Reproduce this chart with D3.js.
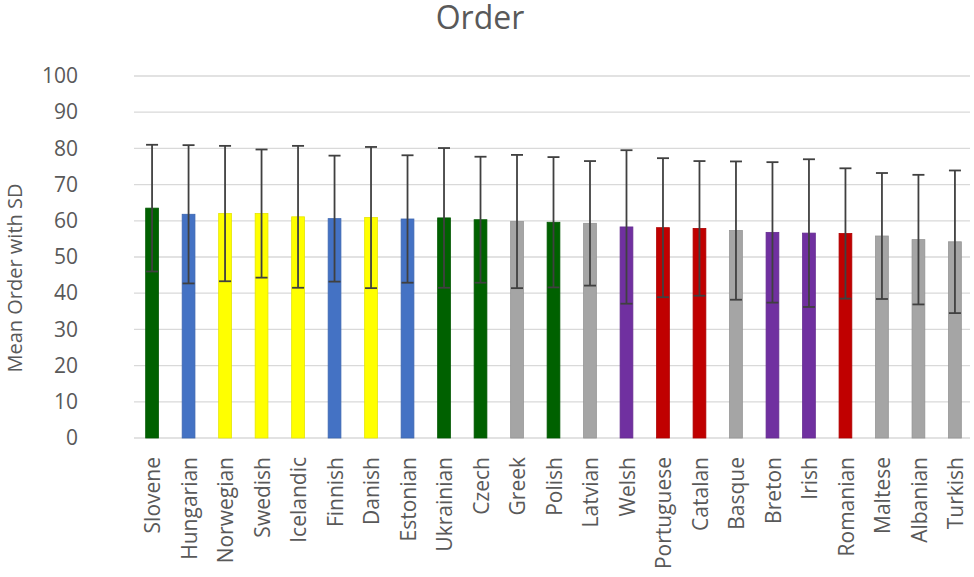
<!DOCTYPE html>
<html>
<head>
<meta charset="utf-8">
<script src="https://cdn.jsdelivr.net/npm/d3@7"></script>
<style>
  body { margin: 0; background: #ffffff; }
  svg { display: block; font-family: "Open Sans", sans-serif; }
</style>
</head>
<body>
<svg id="chart" width="974" height="577"></svg>
<script>
// languages, in the order they appear
const languages = ["Slovene", "Hungarian", "Norwegian", "Swedish", "Icelandic", "Finnish",
  "Danish", "Estonian", "Ukrainian", "Czech", "Greek", "Polish", "Latvian", "Welsh",
  "Portuguese", "Catalan", "Basque", "Breton", "Irish", "Romanian", "Maltese", "Albanian", "Turkish"];

const meanOrder = [63.5, 61.8, 62.0, 62.0, 61.1, 60.6, 60.9, 60.5, 60.8, 60.3, 59.8, 59.6,
  59.3, 58.3, 58.1, 57.9, 57.3, 56.8, 56.6, 56.5, 55.8, 54.8, 54.2];

const sdOrder = [17.5, 19.1, 18.7, 17.7, 19.6, 17.4, 19.5, 17.6, 19.3, 17.4, 18.4, 18.0,
  17.2, 21.2, 19.2, 18.6, 19.1, 19.4, 20.4, 18.0, 17.4, 17.9, 19.7];

// family group -> colour
const family = ["slavic", "uralic", "germanic", "germanic", "germanic", "uralic", "germanic",
  "uralic", "slavic", "slavic", "other", "slavic", "other", "celtic", "romance", "romance",
  "other", "celtic", "celtic", "romance", "other", "other", "other"];

const familyColors = {
  slavic: "#006100",
  uralic: "#4472C4",
  germanic: "#FFFF00",
  other: "#A5A5A5",
  celtic: "#7030A0",
  romance: "#C00000"
};

const yTicks = [0, 10, 20, 30, 40, 50, 60, 70, 80, 90, 100];

const svg = d3.select("#chart");
const margin = { left: 134, right: 1, top: 76, bottom: 139 };
const width = 974 - margin.left - margin.right;
const height = 577 - margin.top - margin.bottom;

const g = svg.append("g")
  .attr("transform", `translate(${margin.left},${margin.top})`);

const x = d3.scaleBand()
  .domain(languages)
  .range([0, width])
  .paddingInner(0.65)
  .paddingOuter(0.32);

const y = d3.scaleLinear()
  .domain([0, 100])
  .range([height, 0]);

// gridlines
g.selectAll(".grid")
  .data(yTicks)
  .enter().append("line")
  .attr("class", "grid")
  .attr("x1", 0)
  .attr("x2", width - 3)
  .attr("y1", d => y(d))
  .attr("y2", d => y(d))
  .attr("stroke", "#d9d9d9")
  .attr("stroke-width", 1.3)

// y axis labels
const yAxis = g.append("g")
  .call(d3.axisLeft(y).tickValues(yTicks).tickSize(0).tickPadding(56))
yAxis.select(".domain").remove();
yAxis.selectAll("text")
  .attr("font-size", 21)
  .attr("font-family", "'Open Sans', sans-serif")
  .attr("fill", "#595959");

// bars
g.selectAll(".bar")
  .data(languages)
  .enter().append("rect")
  .attr("class", "bar")
  .attr("x", d => x(d))
  .attr("y", (d, i) => y(meanOrder[i]))
  .attr("width", x.bandwidth())
  .attr("height", (d, i) => height - y(meanOrder[i]))
  .attr("fill", (d, i) => familyColors[family[i]])
  .attr("stroke", (d, i) => d3.color(familyColors[family[i]]).darker(0.3))
  .attr("stroke-width", 0.8)

// error bars
const capHalf = 6;
const err = g.selectAll(".err")
  .data(languages)
  .enter().append("g")
  .attr("class", "err")
  .attr("stroke", "#404040")
  .attr("stroke-width", 1.8);

err.append("line")
  .attr("x1", d => x(d) + x.bandwidth() / 2)
  .attr("x2", d => x(d) + x.bandwidth() / 2)
  .attr("y1", (d, i) => y(meanOrder[i] - sdOrder[i]))
  .attr("y2", (d, i) => y(meanOrder[i] + sdOrder[i]));

err.append("line")
  .attr("x1", d => x(d) + x.bandwidth() / 2 - capHalf)
  .attr("x2", d => x(d) + x.bandwidth() / 2 + capHalf)
  .attr("y1", (d, i) => y(meanOrder[i] + sdOrder[i]))
  .attr("y2", (d, i) => y(meanOrder[i] + sdOrder[i]));

err.append("line")
  .attr("x1", d => x(d) + x.bandwidth() / 2 - capHalf)
  .attr("x2", d => x(d) + x.bandwidth() / 2 + capHalf)
  .attr("y1", (d, i) => y(meanOrder[i] - sdOrder[i]))
  .attr("y2", (d, i) => y(meanOrder[i] - sdOrder[i]));

// x labels, rotated
g.selectAll(".xlabel")
  .data(languages)
  .enter().append("text")
  .attr("class", "xlabel")
  .attr("transform", d => `translate(${x(d) + x.bandwidth() / 2 + 1},${height + 19}) rotate(-90)`)
  .attr("text-anchor", "end")
  .attr("dy", "0.35em")
  .attr("font-size", 21)
  .attr("fill", "#595959")
  .text(d => d);

// title
svg.append("text")
  .attr("x", 480)
  .attr("y", 29)
  .attr("text-anchor", "middle")
  .attr("font-size", 32)
  .attr("fill", "#595959")
  .text("Order");

// y axis title
svg.append("text")
  .attr("transform", `translate(22,278) rotate(-90)`)
  .attr("text-anchor", "middle")
  .attr("font-size", 20)
  .attr("fill", "#595959")
  .text("Mean Order with SD");
</script>
</body>
</html>
